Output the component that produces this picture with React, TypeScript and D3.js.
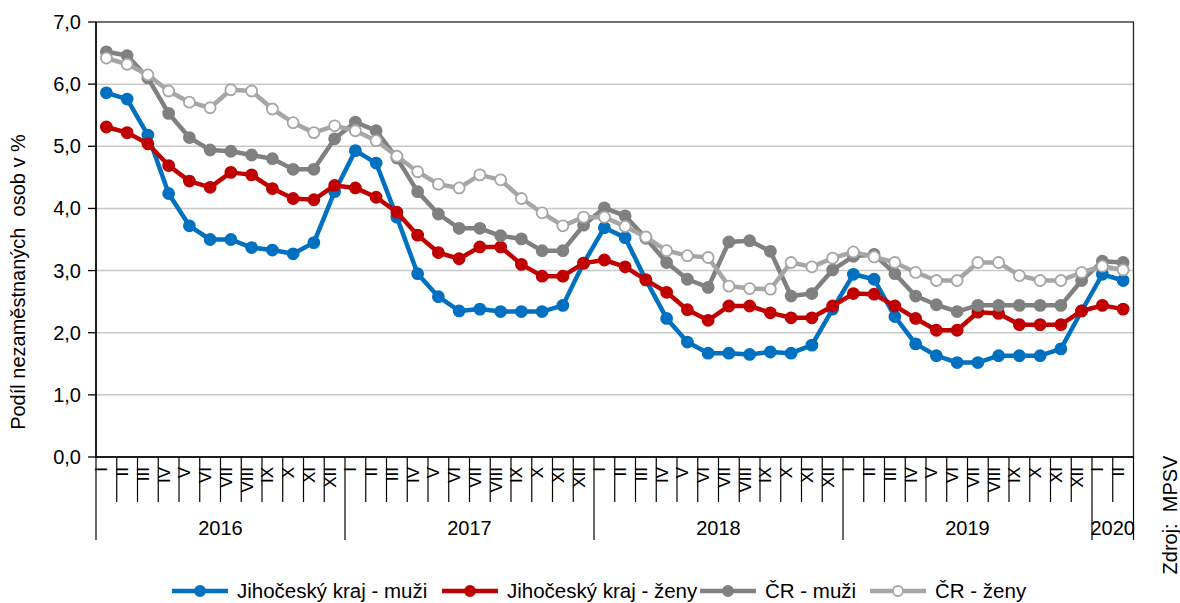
import React from 'react';
import * as d3 from 'd3';

const romanMonths = ['I', 'II', 'III', 'IV', 'V', 'VI', 'VII', 'VIII', 'IX', 'X', 'XI', 'XII'];
const yearLabels = ['2016', '2017', '2018', '2019', '2020'];
const monthsPerYear = [12, 12, 12, 12, 2];
const yTicks = [0, 1, 2, 3, 4, 5, 6, 7];

// podíl nezaměstnaných osob v %, měsíčně 2016/I – 2020/II
const jcMuzi = [5.86, 5.76, 5.18, 4.24, 3.72, 3.5, 3.5, 3.37, 3.33, 3.27, 3.45, 4.27,
  4.93, 4.73, 3.86, 2.95, 2.58, 2.35, 2.38, 2.34, 2.34, 2.34, 2.44, 3.12,
  3.69, 3.53, 2.85, 2.23, 1.85, 1.67, 1.67, 1.65, 1.69, 1.67, 1.8, 2.38,
  2.94, 2.86, 2.26, 1.82, 1.63, 1.52, 1.52, 1.63, 1.63, 1.63, 1.74, 2.35,
  2.94, 2.84];
const jcZeny = [5.31, 5.22, 5.04, 4.69, 4.44, 4.34, 4.58, 4.54, 4.32, 4.16, 4.14, 4.37,
  4.33, 4.18, 3.94, 3.57, 3.29, 3.19, 3.38, 3.38, 3.1, 2.91, 2.91, 3.12,
  3.17, 3.06, 2.85, 2.65, 2.37, 2.2, 2.43, 2.43, 2.32, 2.24, 2.24, 2.43,
  2.63, 2.62, 2.43, 2.23, 2.04, 2.04, 2.33, 2.31, 2.13, 2.13, 2.13, 2.35,
  2.44, 2.38];
const crMuzi = [6.52, 6.46, 6.1, 5.53, 5.14, 4.94, 4.92, 4.86, 4.8, 4.63, 4.63, 5.12,
  5.39, 5.25, 4.81, 4.27, 3.91, 3.68, 3.68, 3.56, 3.51, 3.32, 3.32, 3.73,
  4.01, 3.88, 3.52, 3.13, 2.86, 2.73, 3.46, 3.48, 3.31, 2.59, 2.63, 3.01,
  3.23, 3.26, 2.95, 2.59, 2.45, 2.34, 2.44, 2.44, 2.44, 2.44, 2.44, 2.84,
  3.15, 3.13];
const crZeny = [6.42, 6.32, 6.15, 5.89, 5.71, 5.62, 5.91, 5.89, 5.6, 5.38, 5.22, 5.33,
  5.25, 5.09, 4.84, 4.59, 4.39, 4.33, 4.54, 4.46, 4.16, 3.93, 3.72, 3.86,
  3.86, 3.71, 3.54, 3.32, 3.24, 3.21, 2.75, 2.71, 2.7, 3.13, 3.06, 3.2,
  3.3, 3.22, 3.13, 2.97, 2.84, 2.84, 3.13, 3.13, 2.92, 2.84, 2.84, 2.97,
  3.07, 3.01];

const seriesNames = ['Jihočeský kraj - muži', 'Jihočeský kraj - ženy', 'ČR - muži', 'ČR - ženy'];
const seriesValues = [jcMuzi, jcZeny, crMuzi, crZeny];

const styles = [
  { line: '#0070C0', fill: '#0070C0', stroke: '#0070C0' },
  { line: '#C00000', fill: '#C00000', stroke: '#C00000' },
  { line: '#808080', fill: '#808080', stroke: '#808080' },
  { line: '#A6A6A6', fill: '#FFFFFF', stroke: '#A6A6A6' },
];
const legendX = [172, 442, 700, 870];

const W = 1180, H = 603;
const left = 96, right = 1133.5, top = 22, bottom = 457;
const font = '"Liberation Sans", Arial, sans-serif';

export default function App() {
  const categories: { month: string; year: number }[] = [];
  monthsPerYear.forEach((n, yi) => {
    for (let m = 0; m < n; m++) categories.push({ month: romanMonths[m], year: yi });
  });

  const x = d3.scaleBand<number>().domain(d3.range(categories.length)).range([left, right]).padding(0);
  const bw = x.bandwidth();
  const cx = (i: number) => (x(i) as number) + bw / 2;
  const y = d3.scaleLinear().domain([0, 7]).range([bottom, top]);
  const line = d3.line<number>().x((_, i) => cx(i)).y(d => y(d));

  // year boundaries
  const yearStart: number[] = [];
  let acc = 0;
  monthsPerYear.forEach(n => { yearStart.push(acc); acc += n; });

  return (
    <svg width={W} height={H} style={{ position: 'absolute', left: 0, top: 0, background: '#fff' }}
      fontFamily={font}>
      {/* gridlines */}
      {yTicks.slice(1, -1).map(t => (
        <line key={t} x1={left} x2={right} y1={y(t)} y2={y(t)} stroke="#C8C8C8" strokeWidth={1.5} />
      ))}
      {/* plot border */}
      <rect x={left} y={top} width={right - left} height={bottom - top} fill="none" stroke="#262626" strokeWidth={1.3} />
      {/* y ticks and labels */}
      {yTicks.map(t => (
        <g key={t}>
          <line x1={left - 8} x2={left} y1={y(t)} y2={y(t)} stroke="#000" strokeWidth={1.3} />
          <text x={81} y={y(t)} dy="0.35em" textAnchor="end" fontSize={20} fill="#000">
            {d3.format('.1f')(t).replace('.', ',')}
          </text>
        </g>
      ))}
      <line x1={left} x2={left} y1={top} y2={bottom} stroke="#000" strokeWidth={1.5} />
      <line x1={left} x2={right} y1={bottom} y2={bottom} stroke="#000" strokeWidth={1.5} />
      <text transform={`translate(25,282) rotate(-90)`} textAnchor="middle" fontSize={20} fill="#000"
        style={{ whiteSpace: 'pre' }}>
        {'Podíl nezaměstnaných  osob v %'}
      </text>

      {/* category ticks and month labels */}
      {categories.map((c, i) => (
        <g key={i}>
          {i > 0 && c.month !== 'I' && (
            <line x1={x(i)} x2={x(i)} y1={bottom} y2={502} stroke="#000" strokeWidth={1.2} />
          )}
          <text transform={`translate(${cx(i) + 1},${bottom + 10}) rotate(-90)`} textAnchor="end" fontSize={17} fill="#000">
            {c.month}
          </text>
        </g>
      ))}
      {yearStart.map((s, yi) => {
        const x0 = x(s) as number;
        const x1 = yi < yearStart.length - 1 ? (x(yearStart[yi + 1]) as number) : right;
        return (
          <g key={yi}>
            <line x1={x0} x2={x0} y1={bottom} y2={540} stroke="#000" strokeWidth={1.2} />
            <text x={(x0 + x1) / 2} y={535} textAnchor="middle" fontSize={20} fill="#000">{yearLabels[yi]}</text>
          </g>
        );
      })}
      <line x1={right} x2={right} y1={bottom} y2={540} stroke="#000" strokeWidth={1.2} />

      {/* series */}
      {seriesValues.map((vals, si) => (
        <g key={si}>
          <path d={line(vals) || ''} fill="none" stroke={styles[si].line} strokeWidth={4.5} strokeLinejoin="round" />
          {vals.map((v, i) => (
            <circle key={i} cx={cx(i)} cy={y(v)} r={5.5} fill={styles[si].fill} stroke={styles[si].stroke} strokeWidth={1.8} />
          ))}
        </g>
      ))}

      {/* legend */}
      {seriesNames.map((name, si) => (
        <g key={si} transform={`translate(${legendX[si]},591)`}>
          <line x1={0} x2={56} y1={0} y2={0} stroke={styles[si].line} strokeWidth={4.5} />
          <circle cx={28} cy={0} r={5} fill={styles[si].fill} stroke={styles[si].stroke} strokeWidth={1.8} />
          <text x={65} y={0} dy="0.35em" fontSize={20.5} fill="#000">{name}</text>
        </g>
      ))}

      <text transform="translate(1177,515) rotate(-90)" textAnchor="middle" fontSize={20} fill="#000" style={{ whiteSpace: 'pre' }}>
        {'Zdroj:  MPSV'}
      </text>
    </svg>
  );
}
